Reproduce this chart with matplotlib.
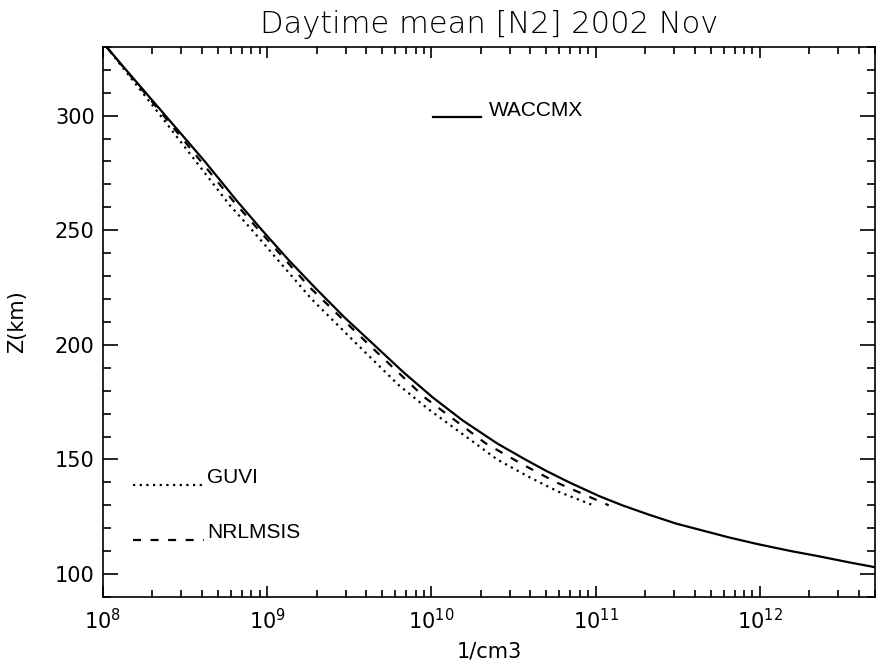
import matplotlib
matplotlib.use('Agg')
import matplotlib.pyplot as plt
from matplotlib.ticker import MultipleLocator, LogLocator
from matplotlib.legend_handler import HandlerLine2D

# altitude (km) and N2 density (1/cm3)
z_waccmx = [330, 320, 300, 280, 263, 250, 237, 225, 212, 200, 188, 177, 167, 157, 150, 145,
            140, 134, 130, 126, 122, 119, 116, 113, 110, 108, 105, 103]
n_waccmx = [1.05e8, 1.38e8, 2.4e8, 4.17e8, 6.5e8, 9.3e8, 1.35e9, 1.95e9, 2.95e9, 4.47e9,
            6.76e9, 1.02e10, 1.55e10, 2.51e10, 3.72e10, 5.0e10, 6.9e10, 1.05e11, 1.45e11,
            2.09e11, 3.09e11, 4.47e11, 6.46e11, 9.77e11, 1.55e12, 2.19e12, 3.55e12, 5.0e12]

z_msis = [330, 300, 263, 250, 225, 200, 177, 157, 148, 140, 130]
n_msis = [1.05e8, 2.34e8, 6.17e8, 8.9e8, 1.82e9, 4.17e9, 9.1e9, 2.14e10, 3.55e10, 5.75e10, 1.2e11]

z_guvi = [330, 300, 261, 250, 220, 200, 182.5, 172, 160, 150, 142.5, 136, 130]
n_guvi = [1.05e8, 2.24e8, 5.9e8, 8.1e8, 1.86e9, 3.55e9, 6.3e9, 9.55e9, 1.62e10, 2.51e10,
          3.89e10, 5.89e10, 9.66e10]

plt.rcParams['font.family'] = ['DejaVu Sans']


class BaselineHandler(HandlerLine2D):
    # IDL-style legend: sample line sits on the text baseline
    def create_artists(self, legend, orig_handle, xdescent, ydescent, width, height,
                       fontsize, trans):
        arts = super().create_artists(legend, orig_handle, xdescent, ydescent, width,
                                      height, fontsize, trans)
        for a in arts:
            a.set_ydata([y - 6.5 for y in a.get_ydata()])
        return arts


fig = plt.figure(figsize=(8.76, 6.70), dpi=100)
ax = fig.add_axes([0.1176, 0.109, 0.881, 0.821])

l_w, = ax.plot(n_waccmx, z_waccmx, color='black', lw=1.6, ls='-')
l_g, = ax.plot(n_guvi, z_guvi, color='black', lw=1.6, ls=(0, (1, 2.0)))
l_m, = ax.plot(n_msis, z_msis, color='black', lw=1.6, ls=(0, (3.6, 4.3)))

ax.set_xscale('log')
ax.set_xlim(1e8, 5e12)
ax.set_ylim(90, 330)
ax.yaxis.set_major_locator(MultipleLocator(50))
ax.yaxis.set_minor_locator(MultipleLocator(10))
ax.xaxis.set_major_locator(LogLocator(base=10, numticks=10))
ax.xaxis.set_minor_locator(LogLocator(base=10, subs=range(2, 10), numticks=20))

ax.tick_params(axis='both', which='both', direction='in', top=True, right=True,
               width=1.2, labelsize=15)
ax.tick_params(axis='x', which='major', length=8, pad=8)
ax.tick_params(axis='x', which='minor', length=5)
ax.tick_params(axis='y', which='major', length=11, pad=6)
ax.tick_params(axis='y', which='minor', length=5.5)
for s in ax.spines.values():
    s.set_linewidth(1.2)

ax.set_title('Daytime mean [N2] 2002 Nov', fontsize=22, pad=10, fontweight='light')
ax.set_xlabel('1/cm3', fontsize=15, labelpad=6)
ax.set_ylabel('Z(km)', fontsize=15, labelpad=20)

lfont = {'family': 'Liberation Sans', 'size': 15}
hmap = {l_w: BaselineHandler(), l_g: BaselineHandler(), l_m: BaselineHandler()}
leg1 = ax.legend([l_w], ['WACCMX'], loc='center left', bbox_to_anchor=(0.428, 0.885),
                 frameon=False, prop=lfont, handlelength=2.3, handletextpad=0.35,
                 borderpad=0, borderaxespad=0, handler_map=hmap)
ax.add_artist(leg1)
leg2 = ax.legend([l_g], ['GUVI'], loc='center left', bbox_to_anchor=(0.039, 0.217),
                 frameon=False, prop=lfont, handlelength=3.4, handletextpad=0.15,
                 borderpad=0, borderaxespad=0, handler_map=hmap)
ax.add_artist(leg2)
ax.legend([l_m], ['NRLMSIS'], loc='center left', bbox_to_anchor=(0.039, 0.117),
          frameon=False, prop=lfont, handlelength=3.4, handletextpad=0.15,
          borderpad=0, borderaxespad=0, handler_map=hmap)

fig.savefig('out.png', dpi=100)
